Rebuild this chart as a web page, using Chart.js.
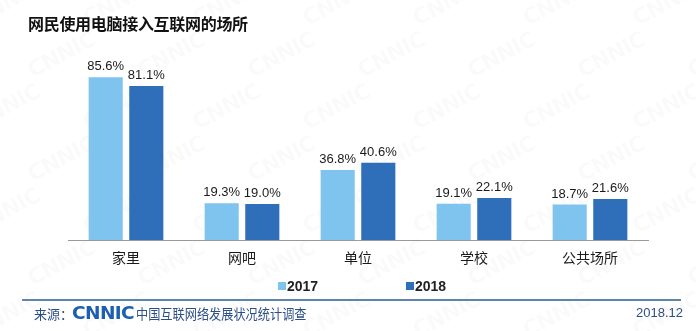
<!DOCTYPE html>
<html>
<head>
<meta charset="utf-8">
<script src="https://cdn.jsdelivr.net/npm/chart.js@4/dist/chart.umd.min.js"></script>
<style>
  html, body { margin: 0; padding: 0; background: #fff; }
  #wrap { position: relative; width: 696px; height: 331px; overflow: hidden; font-family: "Noto Sans CJK SC", sans-serif; }
  #wm { position: absolute; left: 0; top: 0; width: 696px; height: 331px; pointer-events: none; }
  #wm span { position: absolute; font: bold 22px "DejaVu Sans", sans-serif; color: rgba(120,120,120,0.035); transform: rotate(-28deg); letter-spacing: -1px; }
  canvas { position: absolute; left: 0; top: 0; }
  #title { position: absolute; left: 28px; top: 11px; font-size: 16px; font-weight: bold; color: #111; letter-spacing: -0.3px; }
  #legend { position: absolute; top: 277px; left: 0; width: 696px; height: 20px; }
  .lg { position: absolute; top: 0; font: bold 14px "Liberation Sans Narrow", "Liberation Sans", Arial, sans-serif; color: #222; line-height: 18px; white-space: nowrap; }
  .lg i { display: inline-block; width: 8px; height: 8px; margin-right: 1px; vertical-align: 1px; }
  #rule { position: absolute; left: 22px; top: 299px; width: 659px; height: 2px; background: #5f84ad; }
  #src { position: absolute; left: 34px; top: 304px; font-size: 13px; color: #2c4f86; white-space: nowrap; }
  #logo { position: absolute; left: 72px; top: 303px; font: 900 18px "DejaVu Sans", sans-serif; color: #1c5fb0; transform: scaleX(1.03); transform-origin: left; letter-spacing: -0.6px; line-height: 20px; }
  #org { position: absolute; left: 136px; top: 303px; font-size: 14px; color: #2c4f86; transform: scaleX(0.87); transform-origin: left; white-space: nowrap; }
  #date { position: absolute; right: 13px; top: 305px; font: 13px "Liberation Sans", Arial, sans-serif; color: #2c4f86; }
</style>
</head>
<body>
<div id="wrap">
  <div id="wm"></div>
  <canvas id="c" width="696" height="331"></canvas>
  <div id="title">网民使用电脑接入互联网的场所</div>
  <div id="legend"></div>
  <div id="rule"></div>
  <div id="src">来源：</div>
  <div id="logo">CNNIC</div>
  <div id="org">中国互联网络发展状况统计调查</div>
  <div id="date">2018.12</div>
</div>
<script>
// Places where netizens use a computer to go online (%)
const categories = ['家里', '网吧', '单位', '学校', '公共场所'];
const seriesNames = ['2017', '2018'];
const values2017 = [85.6, 19.3, 36.8, 19.1, 18.7];
const values2018 = [81.1, 19.0, 40.6, 22.1, 21.6];
const seriesColors = ['#7fc4ef', '#2f6fb9'];

// faint background watermark
(function () {
  const wm = document.getElementById('wm');
  for (let row = 0; row < 7; row++) {
    for (let col = 0; col < 8; col++) {
      const s = document.createElement('span');
      s.textContent = 'CNNIC';
      s.style.left = (col * 110 + (row % 2) * 55 - 30) + 'px';
      s.style.top = (row * 52 - 10) + 'px';
      wm.appendChild(s);
    }
  }
})();

// value labels above each bar
const valueLabels = {
  id: 'valueLabels',
  afterDatasetsDraw(chart) {
    const ctx = chart.ctx;
    ctx.save();
    ctx.font = '13px "Liberation Sans", Arial, sans-serif';
    ctx.fillStyle = '#1a1a1a';
    ctx.textAlign = 'center';
    ctx.textBaseline = 'bottom';
    chart.data.datasets.forEach((ds, i) => {
      chart.getDatasetMeta(i).data.forEach((bar, j) => {
        ctx.fillText(ds.data[j].toFixed(1) + '%', bar.x, bar.y - 4);
      });
    });
    ctx.restore();
  }
};

const chart = new Chart(document.getElementById('c'), {
  type: 'bar',
  data: {
    labels: categories,
    datasets: [
      { label: seriesNames[0], data: values2017, backgroundColor: seriesColors[0] },
      { label: seriesNames[1], data: values2018, backgroundColor: seriesColors[1] }
    ]
  },
  options: {
    responsive: false,
    animation: false,
    devicePixelRatio: 1,
    layout: { padding: { left: 68, right: 48, top: 50, bottom: 61 } },
    datasets: { bar: { categoryPercentage: 0.7, barPercentage: 0.84 } },
    plugins: { legend: { display: false }, tooltip: { enabled: false } },
    scales: {
      x: {
        grid: { display: false, drawTicks: false },
        border: { display: true, color: '#9a9a9a', width: 1 },
        ticks: { padding: 9, color: '#1a1a1a', font: { family: '"Noto Sans CJK SC", sans-serif', size: 14 } },
        afterFit(scale) { scale.height = 30; }
      },
      y: { display: false, min: 0, max: 100 }
    }
  },
  plugins: [valueLabels]
});

// legend built from the chart's datasets
(function () {
  const lg = document.getElementById('legend');
  const xs = [278, 406];
  chart.data.datasets.forEach((ds, i) => {
    const d = document.createElement('div');
    d.className = 'lg';
    d.style.left = xs[i] + 'px';
    d.innerHTML = '<i style="background:' + ds.backgroundColor + '"></i>' + ds.label;
    lg.appendChild(d);
  });
})();
</script>
</body>
</html>
